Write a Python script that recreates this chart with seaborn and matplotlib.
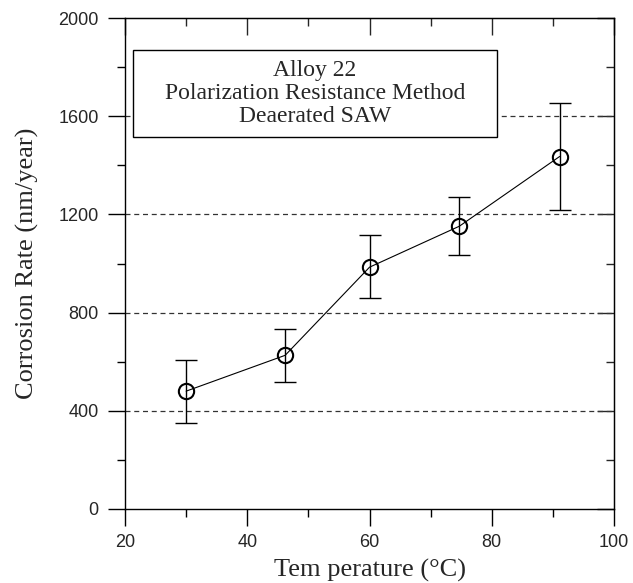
import matplotlib
matplotlib.use('Agg')
import matplotlib.pyplot as plt
import seaborn as sns
import pandas as pd
from matplotlib.patches import Rectangle
from matplotlib.ticker import MultipleLocator, NullFormatter

# data
temperature = [30, 46.2, 60, 74.7, 91.1]
corrosion_rate = [480, 626, 985, 1152, 1436]
err_low = [128, 107, 125, 118, 217]
err_high = [126, 107, 130, 118, 217]

y_gridlines = [400, 800, 1200, 1600]
box_lines = ['Alloy 22', 'Polarization Resistance Method', 'Deaerated SAW']

df = pd.DataFrame({'Temperature': temperature, 'Rate': corrosion_rate})

sns.set_style('ticks')
plt.rcParams['font.family'] = ['Liberation Sans', 'DejaVu Sans']

fig = plt.figure(figsize=(6.33, 5.83), dpi=100)
ax = fig.add_axes([0.1975, 0.127, 0.7725, 0.842])

for g in y_gridlines:
    ax.axhline(g, color='#333333', linestyle=(0, (4, 3)), lw=0.9, zorder=1)

ax.errorbar(df['Temperature'], df['Rate'], yerr=[err_low, err_high],
            fmt='none', ecolor='black', elinewidth=1.0, capsize=8, capthick=1.0, zorder=2)
sns.lineplot(data=df, x='Temperature', y='Rate', ax=ax, color='black', lw=0.8,
             marker='o', markersize=11, markerfacecolor='none',
             markeredgecolor='black', markeredgewidth=1.5, zorder=3)

ax.set_xlim(20, 100)
ax.set_ylim(0, 2000)
ax.xaxis.set_major_locator(MultipleLocator(20))
ax.xaxis.set_minor_locator(MultipleLocator(10))
ax.yaxis.set_major_locator(MultipleLocator(400))
ax.yaxis.set_minor_locator(MultipleLocator(200))
ax.tick_params(which='major', direction='out', length=12, width=1, labelsize=13,
               color='black')
ax.tick_params(axis='x', which='major', pad=6)
ax.tick_params(axis='y', which='major', pad=7)
ax.tick_params(which='minor', direction='out', length=6, width=1, color='black')

for s in ax.spines.values():
    s.set_color('black')
    s.set_linewidth(1)

# inward ticks on top and right
top = ax.secondary_xaxis('top')
top.xaxis.set_major_locator(MultipleLocator(20))
top.xaxis.set_minor_locator(MultipleLocator(10))
top.xaxis.set_major_formatter(NullFormatter())
top.tick_params(which='major', direction='in', length=12, width=1)
top.tick_params(which='minor', direction='in', length=6, width=1)
right = ax.secondary_yaxis('right')
right.yaxis.set_major_locator(MultipleLocator(400))
right.yaxis.set_minor_locator(MultipleLocator(200))
right.yaxis.set_major_formatter(NullFormatter())
right.tick_params(which='major', direction='in', length=12, width=1)
right.tick_params(which='minor', direction='in', length=6, width=1)

serif = ['Liberation Serif', 'DejaVu Serif']
ax.set_xlabel('Tem perature (°C)', family=serif, fontsize=19, labelpad=6)
ax.set_ylabel('Corrosion Rate (nm/year)', family=serif, fontsize=19, labelpad=14)

# annotation box
ax.add_patch(Rectangle((0.016, 0.758), 0.745, 0.177, transform=ax.transAxes,
                       facecolor='white', edgecolor='black', lw=1, zorder=4))
ax.text(0.3885, 0.8465, '\n'.join(box_lines), transform=ax.transAxes,
        ha='center', va='center', family=serif, fontsize=17, linespacing=1.12,
        zorder=5)

fig.savefig('out.png', dpi=100)
plt.close(fig)
